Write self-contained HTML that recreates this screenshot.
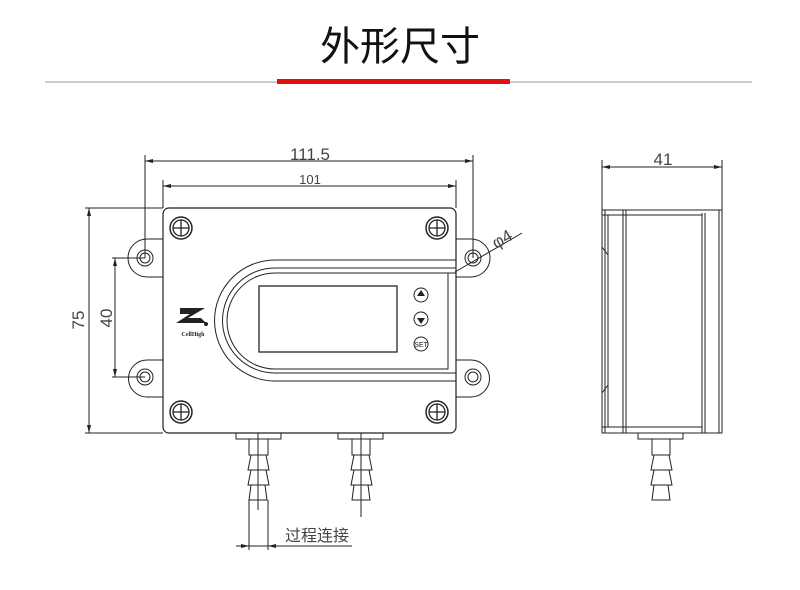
<!DOCTYPE html>
<html><head><meta charset="utf-8"><style>
body{margin:0;background:#fff;width:800px;height:585px;overflow:hidden}
</style></head><body>
<svg width="800" height="585" viewBox="0 0 800 585" xmlns="http://www.w3.org/2000/svg" font-family="Liberation Sans, sans-serif">
<text x="400" y="60" text-anchor="middle" font-size="40" font-family="Liberation Sans, Noto Sans CJK SC, sans-serif" fill="#111">外形尺寸</text>
<line x1="45" y1="82" x2="752" y2="82" stroke="#999" stroke-width="1"/>
<rect x="277" y="79" width="233" height="5" fill="#e01010"/>
<g fill="none" stroke="#222" stroke-width="1">
<line x1="145" y1="155" x2="145" y2="258"/><line x1="473" y1="155" x2="473" y2="258"/>
<line x1="145" y1="161" x2="473" y2="161"/>
<line x1="163" y1="180" x2="163" y2="208"/><line x1="456" y1="180" x2="456" y2="208"/>
<line x1="163" y1="186" x2="456" y2="186"/>
<line x1="85" y1="208" x2="163" y2="208"/><line x1="85" y1="433" x2="163" y2="433"/>
<line x1="89" y1="208" x2="89" y2="433"/>
<line x1="112" y1="258" x2="145" y2="258"/><line x1="112" y1="377" x2="145" y2="377"/>
<line x1="115" y1="258" x2="115" y2="377"/>
<line x1="455" y1="272" x2="522" y2="233"/>
<path d="M163,239 H147 A19,19 0 0 0 147,277 H163"/>
<path d="M163,360 H147 A18.5,18.5 0 0 0 147,397 H163"/>
<path d="M456,239 H471 A19,19 0 0 1 471,277 H456"/>
<path d="M456,360 H471 A18.5,18.5 0 0 1 471,397 H456"/>
<circle cx="145" cy="258" r="8"/><circle cx="145" cy="258" r="5"/>
<circle cx="145" cy="377" r="8"/><circle cx="145" cy="377" r="5"/>
<circle cx="473" cy="258" r="8"/><circle cx="473" cy="258" r="5"/>
<circle cx="473" cy="377" r="8"/><circle cx="473" cy="377" r="5"/>
<rect x="163" y="208" width="293" height="225" rx="6" stroke-width="1.2"/>
<g stroke-width="1.5">
<circle cx="181" cy="228" r="11"/><circle cx="437" cy="228" r="11"/><circle cx="181" cy="412" r="11"/><circle cx="437" cy="412" r="11"/>
</g>
<g stroke-width="1.3">
<circle cx="181" cy="228" r="8"/><circle cx="437" cy="228" r="8"/><circle cx="181" cy="412" r="8"/><circle cx="437" cy="412" r="8"/>
<path d="M181,220v16M173,228h16M437,220v16M429,228h16M181,404v16M173,412h16M437,404v16M429,412h16"/>
</g>
<path d="M456,260 H275 A60.5,60.5 0 0 0 275,381 H456"/>
<path d="M456,268 H275 A52.5,52.5 0 0 0 275,373 H456"/>
<path d="M456,273 H448 V369 H275 A48,48 0 0 1 275,273 H448"/>
<rect x="259" y="286" width="138" height="66" stroke-width="1.3"/>
<circle cx="421" cy="295" r="7"/><circle cx="421" cy="319" r="7"/><circle cx="421" cy="344" r="7"/>
<rect x="236" y="433" width="45" height="6"/><rect x="338" y="433" width="45" height="6"/>
<path d="M249,439V455h19V439M251,455l-3,15h21l-3,-15M251,470l-3,15h21l-3,-15M251,485l-2,15h18l-2,-15"/>
<path d="M352,439V455h18V439M354,455l-3,15h21l-3,-15M354,470l-3,15h21l-3,-15M354,485l-2,15h18l-2,-15"/>
<line x1="258" y1="433" x2="258" y2="510"/><line x1="361" y1="433" x2="361" y2="517"/>
<line x1="249" y1="500" x2="249" y2="550"/><line x1="268" y1="500" x2="268" y2="550"/>
<line x1="236" y1="546" x2="352" y2="546"/>
<line x1="602" y1="160" x2="602" y2="210"/><line x1="722" y1="160" x2="722" y2="210"/>
<line x1="602" y1="167" x2="722" y2="167"/>
<rect x="602" y="210" width="120" height="223"/>
<path d="M605,210V433M608,215V427M623,210V433M626,210V433M702,213V433M705,213V433M719,210V433M608,215H702M608,427H702M602,215h6M602,427h6"/>
<path d="M608,255 l-6,-8M608,385 l-6,8"/>
<rect x="638" y="433" width="45" height="6"/>
<path d="M652,439V455h18V439M654,455l-3,15h21l-3,-15M654,470l-3,15h21l-3,-15M654,485l-2,15h18l-2,-15"/>
</g>
<g fill="#222">
<path d="M145,161l8,-2v4zM473,161l-8,-2v4zM163,186l8,-2v4zM456,186l-8,-2v4zM89,208l-2,8h4zM89,433l-2,-8h4zM115,258l-2,8h4zM115,377l-2,-8h4zM602,167l8,-2v4zM722,167l-8,-2v4zM249,546l-8,-2v4zM268,546l8,-2v4z"/>
<path d="M421,290l-4,6h8zM421,324l-4,-6h8z"/>
<path d="M180,308h25l-17,10h13l5,5h-30l14,-9h-10z"/>
<circle cx="206" cy="324" r="2"/>
</g>
<text x="421" y="347" font-size="7" text-anchor="middle" fill="#222">SET</text>
<text x="193" y="336" font-size="6" font-weight="bold" text-anchor="middle" fill="#222" font-family="Liberation Serif, serif">CellHigh</text>
<g fill="#444" font-size="17">
<text x="310" y="160" text-anchor="middle">111.5</text>
<text x="310" y="184" text-anchor="middle" font-size="13">101</text>
<text x="663" y="165" text-anchor="middle">41</text>
<text transform="translate(84,320) rotate(-90)" text-anchor="middle">75</text>
<text transform="translate(112,318) rotate(-90)" text-anchor="middle">40</text>
<text transform="translate(505,244) rotate(-30)" text-anchor="middle">φ4</text>
<text x="317" y="541" text-anchor="middle" font-family="Liberation Sans, Noto Sans CJK SC, sans-serif" font-size="16">过程连接</text>
</g>
</svg>
</body></html>
